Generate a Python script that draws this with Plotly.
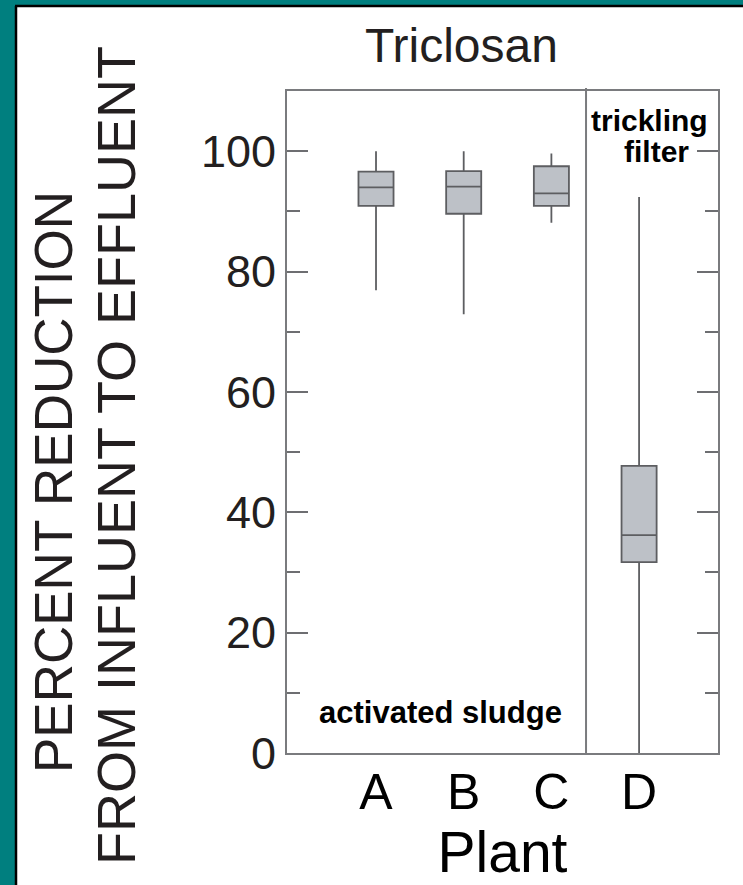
import plotly.graph_objects as go

# ---- data ----
plants = ["A", "B", "C", "D"]
lower_whisker = [76.9, 72.9, 88.1, 0.0]
q1_vals = [90.9, 89.6, 90.9, 31.7]
median_vals = [94.0, 94.1, 93.0, 36.2]
q3_vals = [96.6, 96.7, 97.5, 47.7]
upper_whisker = [100.0, 100.0, 99.6, 92.4]
y_ticks = [0, 20, 40, 60, 80, 100]

W, H = 743, 885
L, R, T, B = 287, 25, 91, 132
PW, PH = W - L - R, H - T - B


def px(x):
    return (x - L) / PW


def py(y):
    return (H - B - y) / PH


SANS = "Liberation Sans, Arial, sans-serif"
TXT = "#231f20"
AX = "#7a7b7e"

positions = list(range(len(plants)))

fig = go.Figure()
fig.add_trace(go.Box(
    x=positions,
    q1=q1_vals, median=median_vals, q3=q3_vals,
    lowerfence=lower_whisker, upperfence=upper_whisker,
    width=0.4, whiskerwidth=0,
    fillcolor="#bdc1c7",
    line=dict(color="#5d5e61", width=1.8),
    boxpoints=False, showlegend=False, hoverinfo="skip",
))

fig.update_layout(
    width=W, height=H,
    margin=dict(l=L, r=R, t=T, b=B),
    paper_bgcolor="white", plot_bgcolor="white",
    showlegend=False,
    xaxis=dict(
        range=[-1.015, 3.90],
        tickvals=positions, ticktext=plants,
        showgrid=False, zeroline=False,
        showline=True, linecolor=AX, linewidth=2, mirror=True,
        ticks="", ticklabelstandoff=-6,
        tickfont=dict(family=SANS, size=50, color="black"),
        title=dict(text="Plant", font=dict(family=SANS, size=57, color="black"), standoff=0),
    ),
    yaxis=dict(
        range=[0, 110],
        tickvals=y_ticks,
        showgrid=False, zeroline=False,
        showline=True, linecolor=AX, linewidth=2, mirror="ticks",
        ticks="inside", ticklen=21, tickwidth=1.6, tickcolor="#6d6e71",
        minor=dict(dtick=10, ticks="inside", ticklen=13, tickwidth=1.6, tickcolor="#6d6e71"),
        tickfont=dict(family=SANS, size=45, color=TXT),
    ),
)

shapes = [
    # teal frame (left and top) with black inner rule
    dict(type="rect", xref="paper", yref="paper", x0=px(0), x1=px(15), y0=py(H), y1=py(0),
         fillcolor="#007f7f", line=dict(width=0), layer="below"),
    dict(type="rect", xref="paper", yref="paper", x0=px(0), x1=px(W), y0=py(5), y1=py(0),
         fillcolor="#007f7f", line=dict(width=0), layer="below"),
    dict(type="line", xref="paper", yref="paper", x0=px(16), x1=px(16), y0=py(H), y1=py(6),
         line=dict(color="black", width=2.5)),
    dict(type="line", xref="paper", yref="paper", x0=px(15), x1=px(W), y0=py(6), y1=py(6),
         line=dict(color="black", width=2.5)),
    # divider between activated sludge and trickling filter plants
    dict(type="line", xref="x", yref="paper", x0=2.395, x1=2.395, y0=0, y1=py(88),
         line=dict(color=AX, width=2)),
]
fig.update_layout(shapes=shapes)

annotations = [
    dict(text="Triclosan", xref="paper", yref="paper", x=px(461), y=py(45),
         xanchor="center", yanchor="middle", showarrow=False,
         font=dict(family=SANS, size=48, color=TXT)),
    dict(text="PERCENT REDUCTION", xref="paper", yref="paper", x=px(53), y=py(482),
         xanchor="center", yanchor="middle", textangle=-90, showarrow=False,
         font=dict(family=SANS, size=53, color=TXT)),
    dict(text="FROM INFLUENT TO EFFLUENT", xref="paper", yref="paper", x=px(116), y=py(456),
         xanchor="center", yanchor="middle", textangle=-90, showarrow=False,
         font=dict(family=SANS, size=54, color=TXT)),
    dict(text="<b>activated sludge</b>", xref="paper", yref="paper", x=px(440), y=py(712),
         xanchor="center", yanchor="middle", showarrow=False,
         font=dict(family=SANS, size=31, color="black")),
    dict(text="<b>trickling</b>", xref="paper", yref="paper", x=px(649), y=py(120),
         xanchor="center", yanchor="middle", showarrow=False,
         font=dict(family=SANS, size=30, color="black")),
    dict(text="<b>filter</b>", xref="paper", yref="paper", x=px(656), y=py(151),
         xanchor="center", yanchor="middle", showarrow=False,
         font=dict(family=SANS, size=30, color="black")),
]
fig.update_layout(annotations=annotations)

fig.write_html("out.html")
